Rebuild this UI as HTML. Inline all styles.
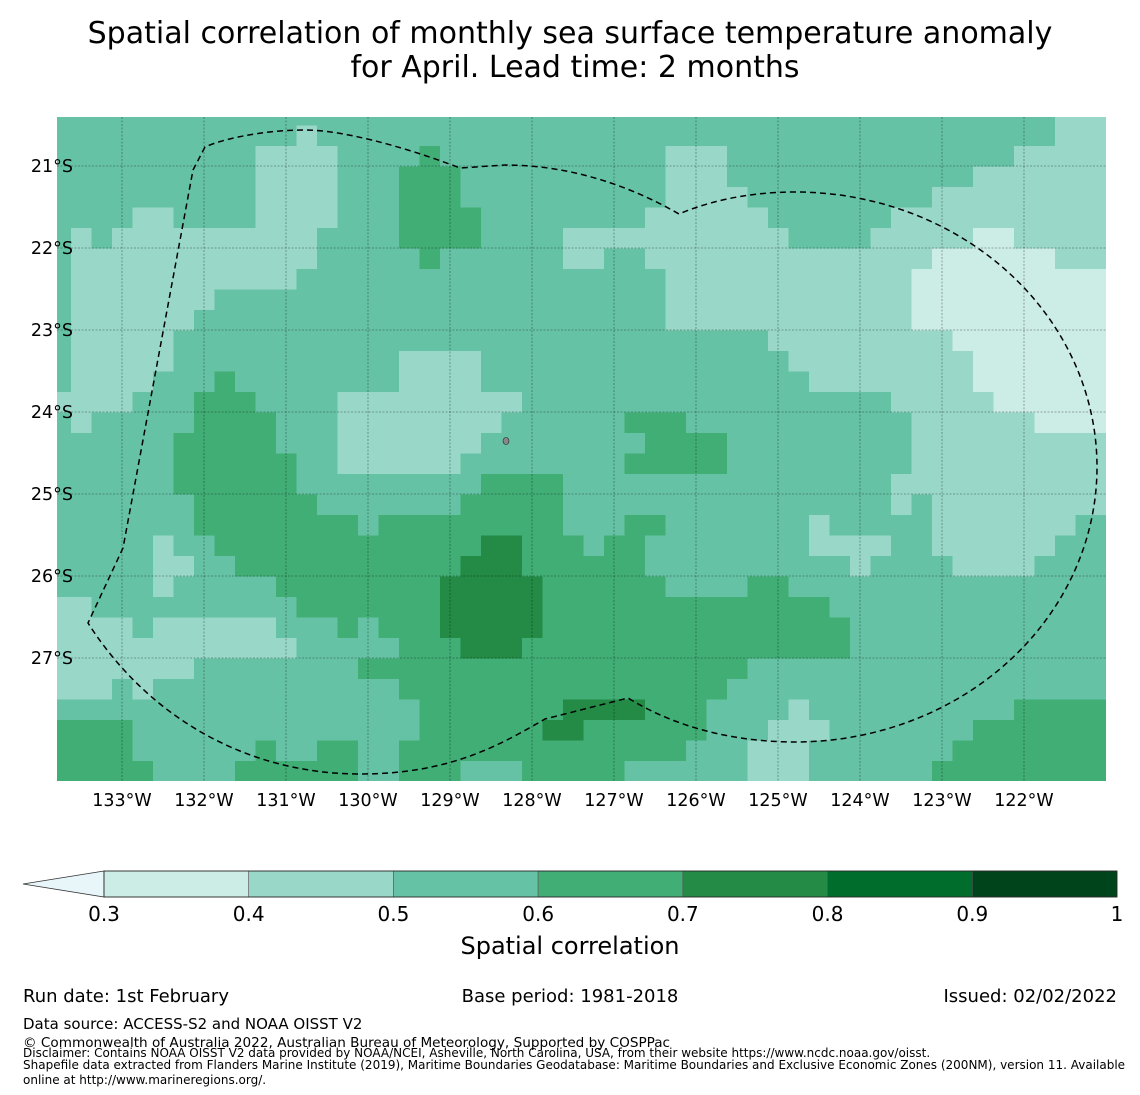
<!DOCTYPE html>
<html><head><meta charset="utf-8">
<style>
html,body{margin:0;padding:0;background:#fff;}
body{width:1140px;height:1095px;overflow:hidden;font-family:"DejaVu Sans","Liberation Sans",sans-serif;}
svg{display:block;}
</style></head>
<body>
<svg id="chart" width="1140" height="1095" xmlns="http://www.w3.org/2000/svg">
<text x="570" y="43" font-size="30" text-anchor="middle" font-family="DejaVu Sans, sans-serif">Spatial correlation of monthly sea surface temperature anomaly</text>
<text x="575" y="77" font-size="30" text-anchor="middle" font-family="DejaVu Sans, sans-serif">for April. Lead time: 2 months</text>
<defs><clipPath id="plotclip"><rect x="57" y="117" width="1049" height="664"/></clipPath></defs>
<g id="cells" clip-path="url(#plotclip)"></g>
<g id="grid"></g>
<path d="M205,147 L193,170 L123,548 L88,623 C150,720 250,774 360,774 C450,774 500,745 545,719 L628,698 C680,730 740,742 795,742 A302 275 0 0 0 1097,467 A302 275 0 0 0 795,192 C740,192 700,205 679,214 C620,180 560,165 505,165 L460,168 C400,145 340,130 305,130 C260,130 220,140 205,147 Z" fill="none" stroke="#000" stroke-width="1.5" stroke-dasharray="6,4"/>
<ellipse cx="506" cy="441" rx="3" ry="3.5" fill="#888" stroke="#222" stroke-width="0.6"/>
<g id="axes"></g>
<g id="colorbar"></g>
<text x="570" y="954" font-size="24" text-anchor="middle">Spatial correlation</text>
<text x="23" y="1002" font-size="18">Run date: 1st February</text>
<text x="570" y="1002" font-size="18" text-anchor="middle">Base period: 1981-2018</text>
<text x="1117" y="1002" font-size="18" text-anchor="end">Issued: 02/02/2022</text>
<text x="23" y="1029" font-size="15">Data source: ACCESS-S2 and NOAA OISST V2</text>
<text x="23" y="1047" font-size="13.6">© Commonwealth of Australia 2022, Australian Bureau of Meteorology, Supported by COSPPac</text>
<text x="23" y="1057" font-size="12">Disclaimer: Contains NOAA OISST V2 data provided by NOAA/NCEI, Asheville, North Carolina, USA, from their website https://www.ncdc.noaa.gov/oisst.</text>
<text x="23" y="1069" font-size="12">Shapefile data extracted from Flanders Marine Institute (2019), Maritime Boundaries Geodatabase: Maritime Boundaries and Exclusive Economic Zones (200NM), version 11. Available</text>
<text x="23" y="1084" font-size="12">online at http://www.marineregions.org/.</text>
</svg>
<script>
// Each row: "startCol=class" runs. class: 1=0.3-0.4, 2=0.4-0.5, 3=0.5-0.6, 4=0.6-0.7, 5=0.7-0.8
const gridRuns = [
"0=3,49=2",
"0=3,12=2,13=3,49=2",
"0=3,10=2,14=3,18=4,19=3,30=2,33=3,47=2",
"0=3,10=2,14=3,17=4,20=3,30=2,33=3,45=2",
"0=3,10=2,14=3,17=4,20=3,30=2,34=3,43=2",
"0=3,4=2,6=3,10=2,14=3,17=4,21=3,29=2,35=3,41=2",
"0=3,1=2,2=3,3=2,13=3,17=4,21=3,25=2,36=3,40=2,45=1,47=2",
"0=3,1=2,13=3,18=4,19=3,25=2,27=3,29=2,43=1,49=2",
"0=3,1=2,12=3,30=2,42=1",
"0=3,1=2,8=3,30=2,42=1",
"0=3,1=2,7=3,30=2,42=1",
"0=3,1=2,6=3,35=2,44=1",
"0=3,1=2,6=3,17=2,21=3,36=2,45=1",
"0=3,1=2,5=3,8=4,9=3,17=2,21=3,37=2,45=1",
"0=2,4=3,7=4,10=3,14=2,23=3,41=2,46=1",
"0=3,1=2,2=3,7=4,11=3,14=2,22=3,28=4,31=3,42=2,48=1",
"0=3,6=4,11=3,14=2,21=3,29=4,33=3,42=2",
"0=3,6=4,12=3,14=2,20=3,28=4,33=3,42=2",
"0=3,6=4,12=3,21=4,25=3,41=2",
"0=3,7=4,13=3,20=4,25=3,41=2,42=3,43=2",
"0=3,7=4,15=3,16=4,25=3,28=4,30=3,37=2,38=3,43=2,50=3",
"0=3,5=2,6=3,8=4,21=5,23=4,26=3,27=4,29=3,37=2,41=3,43=2,49=3",
"0=3,5=2,7=3,9=4,20=5,23=4,29=3,39=2,40=3,44=2,48=3",
"0=3,5=2,6=3,11=4,19=5,24=4,30=3,34=4,36=3",
"0=2,2=3,12=4,19=5,24=4,38=3",
"0=2,4=3,5=2,11=3,14=4,15=3,16=4,19=5,24=4,39=3",
"0=2,12=3,17=4,20=5,23=4,39=3",
"0=2,7=3,15=4,34=3",
"0=2,3=3,4=2,5=3,17=4,33=3",
"0=3,18=4,25=5,29=4,32=3,36=2,37=3,47=4",
"0=4,4=3,18=4,24=5,26=4,32=3,35=2,38=3,45=4",
"0=4,4=3,10=4,11=3,13=4,15=3,17=4,31=3,34=2,37=3,44=4",
"0=4,5=3,9=4,15=3,17=4,20=3,23=4,28=3,34=2,37=3,43=4"
];
const levelBounds = [0.3,0.4,0.5,0.6,0.7,0.8,0.9,1.0];
const levelColors = ["#e8f6f9","#ccece6","#99d8c9","#66c2a4","#41ae76","#238b45","#006d2c","#00441b"];
const lonTicks = [-133,-132,-131,-130,-129,-128,-127,-126,-125,-124,-123,-122];
const latTicks = [-21,-22,-23,-24,-25,-26,-27];
const cbTicks = ["0.3","0.4","0.5","0.6","0.7","0.8","0.9","1"];
const NCOLS = 52;

const NS="http://www.w3.org/2000/svg";
const PX=82;
const lonX = lon => 122 + (lon + 133) * PX;
const latY = lat => 166 + (-21 - lat) * PX;
const cell = 0.25;
const lon0 = -133 - (122 - 50.5) / PX;
const lat0 = -21 + (166 - 105) / PX;
function mk(tag, attrs){const e=document.createElementNS(NS,tag);for(const k in attrs)e.setAttribute(k,attrs[k]);return e;}
function expand(runs){
  const parts=runs.split(',').map(p=>p.split('=').map(Number));
  const out=[];
  for(let i=0;i<parts.length;i++){
    const end = i+1<parts.length ? parts[i+1][0] : NCOLS;
    for(let c=parts[i][0];c<end;c++) out.push(parts[i][1]);
  }
  return out;
}

const cells=document.getElementById('cells');
gridRuns.forEach((runs,r)=>{
  const row=expand(runs);
  row.forEach((v,c)=>{
    const x=lonX(lon0+c*cell), y=latY(lat0-r*cell);
    const rc=mk('rect',{x:x.toFixed(2),y:y.toFixed(2),width:(cell*PX+0.6).toFixed(2),height:(cell*PX+0.6).toFixed(2),fill:levelColors[v]});
    
    
    cells.appendChild(rc);
  });
});

const grid=document.getElementById('grid'), axes=document.getElementById('axes');
lonTicks.forEach(lon=>{
  const x=lonX(lon);
  const l=mk('line',{x1:x,x2:x,y1:117,y2:781,stroke:"#000","stroke-opacity":0.4,"stroke-width":0.8,"stroke-dasharray":"2,1.5"});
  
  
  grid.appendChild(l);
  const t=mk('text',{x:x,y:806,"font-size":17.5,"text-anchor":"middle"});
  t.textContent=Math.abs(lon)+"°W";
  
  
  axes.appendChild(t);
});
latTicks.forEach(lat=>{
  const y=latY(lat);
  const l=mk('line',{x1:57,x2:1106,y1:y,y2:y,stroke:"#000","stroke-opacity":0.4,"stroke-width":0.8,"stroke-dasharray":"2,1.5"});
  
  
  grid.appendChild(l);
  const t=mk('text',{x:73,y:y+6,"font-size":17.5,"text-anchor":"end"});
  t.textContent=Math.abs(lat)+"°S";
  
  
  axes.appendChild(t);
});

const cb=document.getElementById('colorbar');
const cbX0=104, cbX1=1117, cbY=871, cbH=26;
const cbScale = v => cbX0 + (v - levelBounds[0]) / (levelBounds[levelBounds.length-1]-levelBounds[0]) * (cbX1-cbX0);
const tri=mk('path',{d:`M${cbX0},${cbY} L23,${cbY+cbH/2} L${cbX0},${cbY+cbH} Z`,fill:levelColors[0],stroke:"#333","stroke-width":0.8});


cb.appendChild(tri);
for(let i=0;i<levelBounds.length-1;i++){
  const x=cbScale(levelBounds[i]), x2=cbScale(levelBounds[i+1]);
  const r=mk('rect',{x:x,y:cbY,width:x2-x,height:cbH,fill:levelColors[i+1],stroke:"#555","stroke-width":0.6});
  
  
  cb.appendChild(r);
}
const frame=mk('rect',{x:cbX0,y:cbY,width:cbX1-cbX0,height:cbH,fill:"none",stroke:"#222","stroke-width":0.8});


cb.appendChild(frame);
cbTicks.forEach(s=>{
  const x=cbScale(+s);
  const t=mk('text',{x:x,y:921,"font-size":20,"text-anchor":"middle"});
  t.textContent=s;
  
  
  cb.appendChild(t);
});
</script>
</body></html>
